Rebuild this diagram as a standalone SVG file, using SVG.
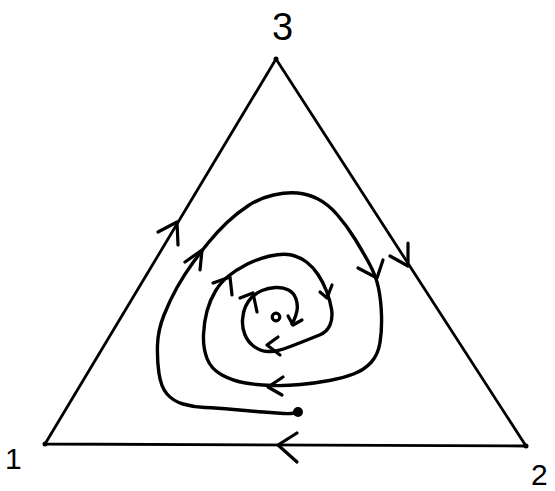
<svg xmlns="http://www.w3.org/2000/svg" width="555" height="491" viewBox="0 0 555 491">
<style>
.ln{fill:none;stroke:#000;stroke-linecap:round;stroke-linejoin:round}
.edge{stroke-width:2.8}
.sp{stroke-width:3.4}
.arr{stroke-width:3.2}
.lbl{font-family:"Liberation Sans",Arial,sans-serif;fill:#000}
</style>
<rect width="555" height="491" fill="#fff"/>
<g id="v1"><circle cx="45" cy="444" r="2.5"/><text class="lbl" x="5" y="469" font-size="30">1</text></g>
<g id="v2"><circle cx="526" cy="446" r="2.5"/><text class="lbl" x="531" y="485" font-size="30">2</text></g>
<g id="v3"><circle cx="276" cy="59" r="2.5"/><text class="lbl" x="272" y="40" font-size="38">3</text></g>
<g id="connectors">
<path class="ln edge" d="M45,444 L276,59 L526,446 Z"/>
<polyline class="ln arr" points="158,232 177,222 178,245"/>
<polyline class="ln arr" points="390,256 408,266 408,243"/>
<polyline class="ln arr" points="297,433 278,445 297,462"/>
<path class="ln sp" d="M298,412 L294,413 Q290,414 283.5,413.5 Q277,413 263.5,412 Q250,411 233.5,409.5 Q217,408 205,407.5 Q193,407 183,404 Q173,401 167,394 Q161,387 159,373.5 Q157,360 157.5,345 Q158,330 164,315 Q170,300 177,287.5 Q184,275 192,264 Q200,253 208.5,242.5 Q217,232 227,222.5 Q237,213 248.5,205.5 Q260,198 273.5,195 Q287,192 297.5,193 Q308,194 318,199 Q328,204 337.5,215 Q347,226 355,239 Q363,252 369.5,264 Q376,276 378.5,288 Q381,300 381.5,315 Q382,330 380,342.5 Q378,355 371,362.5 Q364,370 353.5,374 Q343,378 329.5,380.5 Q316,383 300.5,384.5 Q285,386 271.5,385.5 Q258,385 245.5,383 Q233,381 222,375 Q211,369 207,358.5 Q203,348 203.5,335 Q204,322 207,311 Q210,300 215.5,291 Q221,282 228.5,276 Q236,270 246.5,264.5 Q257,259 270,256 Q283,253 291.5,255 Q300,257 306.5,262 Q313,267 318,274.5 Q323,282 326.5,291 Q330,300 331.5,309 Q333,318 330,325 Q327,332 319.5,335 Q312,338 302,342 Q292,346 283.5,349 Q275,352 267.5,351.5 Q260,351 254,346.5 Q248,342 245,335 Q242,328 242.5,320 Q243,312 245.5,306.5 Q248,301 252,297 Q256,293 262,290.5 Q268,288 275.5,287.5 Q283,287 288.5,290 Q294,293 296,299 Q298,305 297,310.5 Q296,316 294,320 L292,324"/>
<circle cx="298" cy="412" r="5"/>
<polyline class="ln arr" points="185,262 202,250 200,270"/>
<polyline class="ln arr" points="358,268 377,278 383,260"/>
<polyline class="ln arr" points="213,283 230,277 232,295"/>
<polyline class="ln arr" points="320,292 327,298 332,285"/>
<polyline class="ln arr" points="283,377 268,387 282,395"/>
<polyline class="ln arr" points="240,298 253,293 257,312"/>
<polyline class="ln arr" points="278,337 267,345 280,355"/>
<polyline class="ln arr" points="288,316 293,325 302,320"/>
</g>
<g id="center"><circle class="ln" cx="276" cy="317" r="3.8" stroke-width="3.2"/></g>
</svg>
